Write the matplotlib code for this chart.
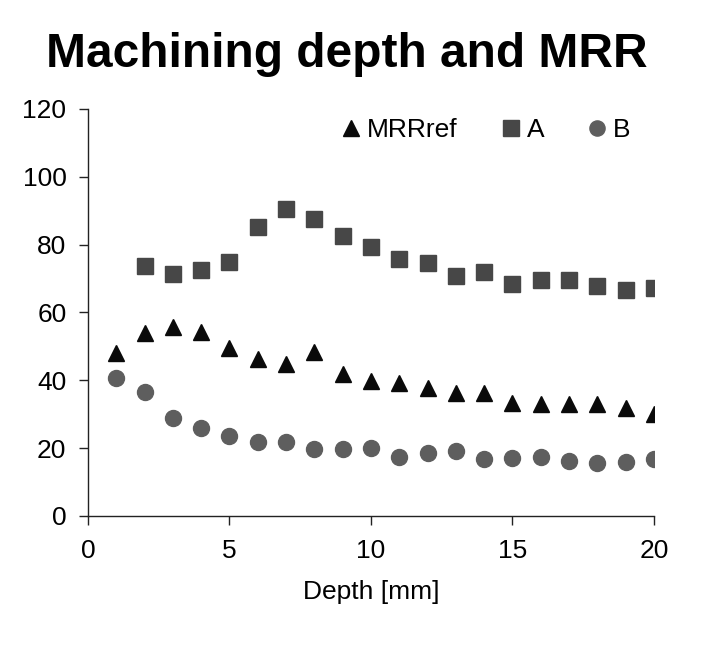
import matplotlib
matplotlib.use('Agg')
import matplotlib.pyplot as plt
import numpy as np

plt.rcParams['font.family'] = ['Liberation Sans', 'DejaVu Sans']

# values
depth = [1, 2, 3, 4, 5, 6, 7, 8, 9, 10, 11, 12, 13, 14, 15, 16, 17, 18, 19, 20]
mrr_ref = [48.1, 54.0, 55.8, 54.2, 49.4, 46.3, 44.7, 48.4, 41.9, 39.8,
           39.1, 37.8, 36.2, 36.4, 33.4, 32.9, 32.9, 32.9, 31.9, 30.0]
a_depth = [2, 3, 4, 5, 6, 7, 8, 9, 10, 11, 12, 13, 14, 15, 16, 17, 18, 19, 20]
a_vals = [73.7, 71.3, 72.5, 75.0, 85.1, 90.4, 87.6, 82.6, 79.2, 75.8,
          74.7, 70.8, 71.8, 68.3, 69.6, 69.6, 67.8, 66.6, 67.1]
b_vals = [40.8, 36.5, 29.0, 25.8, 23.7, 21.9, 21.9, 19.7, 19.7, 20.1,
          17.5, 18.5, 19.2, 16.7, 17.0, 17.5, 16.2, 15.5, 15.8, 16.8]

x_ticks = [0, 5, 10, 15, 20]
y_ticks = [0, 20, 40, 60, 80, 100, 120]

fig = plt.figure(figsize=(7.09, 6.51), dpi=100)
ax = fig.add_axes([0.1241, 0.2074, 0.7983, 0.6252])

ax.plot(depth, mrr_ref, linestyle='none', marker='^', markersize=12,
        color='#0a0a0a', label='MRRref')
ax.plot(a_depth, a_vals, linestyle='none', marker='s', markersize=12,
        color='#474747', label='A')
ax.plot(depth, b_vals, linestyle='none', marker='o', markersize=11.5,
        color='#5e5e5e', label='B')

ax.set_xlim(0, 20)
ax.set_ylim(0, 120)
ax.set_xticks(x_ticks)
ax.set_yticks(y_ticks)

for side in ['top', 'right']:
    ax.spines[side].set_visible(False)
for side in ['left', 'bottom']:
    ax.spines[side].set_color('#222222')
    ax.spines[side].set_linewidth(1.0)

ax.tick_params(axis='x', direction='out', length=6.5, width=1.0,
               color='#222222', labelsize=19, pad=10)
ax.tick_params(axis='y', direction='out', length=6.5, width=1.0,
               color='#222222', labelsize=19, pad=9)
ax.set_xlabel('Depth [mm]', fontsize=19, labelpad=12)

ax.legend(loc='center right', bbox_to_anchor=(1.0, 0.948), ncol=3,
          frameon=False, fontsize=19, handletextpad=0.2,
          columnspacing=1.6, handlelength=0.8, markerscale=0.95)

fig.text(0.489, 0.917, 'Machining depth and MRR', ha='center', va='center',
         fontsize=34.5, fontweight='bold')

# partially cut text at the bottom edge of the reference
fig.text(0.168, -0.035, '[', ha='center', va='center', fontsize=34, fontweight='bold')
fig.text(0.834, -0.035, ']', ha='center', va='center', fontsize=34, fontweight='bold')

fig.savefig('out.png', dpi=100)
